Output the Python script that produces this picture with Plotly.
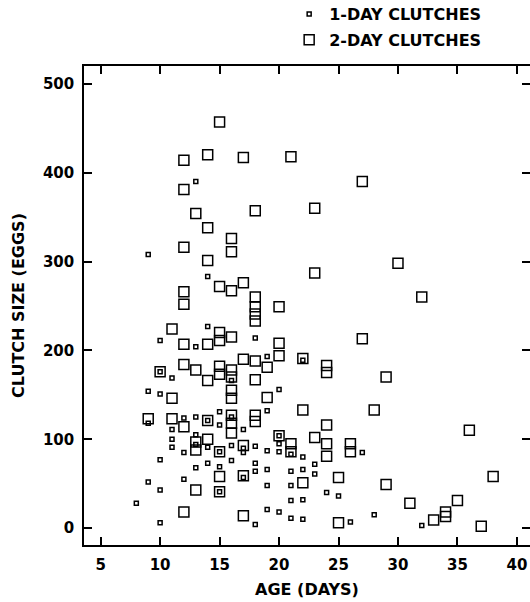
import plotly.graph_objects as go

# 1-day clutches: (age in days, clutch size in eggs)
one_day_age = [8,
               9, 9, 9, 9,
               10, 10, 10, 10, 10, 10,
               11, 11, 11, 11,
               12, 12, 12,
               13, 13, 13, 13, 13, 13,
               14, 14, 14, 14, 14,
               15, 15, 15, 15, 15,
               16, 16, 16, 16,
               17, 17, 17, 17,
               18, 18, 18, 18, 18,
               19, 19, 19, 19, 19, 19,
               20, 20, 20, 20, 20,
               21, 21, 21, 21, 21,
               22, 22, 22, 22, 22,
               23, 23,
               24, 25, 26, 27, 28, 32]
one_day_size = [28,
                308, 154, 118, 52,
                211, 176, 151, 77, 43, 6,
                169, 111, 100, 91,
                124, 85, 55,
                390, 204, 125, 105, 94, 68,
                283, 227, 121, 91, 73,
                131, 116, 86, 69, 41,
                166, 125, 93, 76,
                111, 90, 85, 57,
                214, 92, 73, 64, 4,
                193, 132, 87, 66, 48, 21,
                156, 104, 95, 86, 18,
                83, 64, 48, 31, 11,
                189, 80, 66, 32, 10,
                72, 61,
                40, 36, 7, 85, 15, 3]

# 2-day clutches
two_day_age = [9,
               10,
               11, 11, 11,
               12, 12, 12, 12, 12, 12, 12, 12, 12,
               13, 13, 13, 13, 13,
               14, 14, 14, 14, 14, 14, 14,
               15, 15, 15, 15, 15, 15, 15, 15, 15,
               16, 16, 16, 16, 16, 16, 16, 16, 16, 16, 16,
               17, 17, 17, 17, 17, 17,
               18, 18, 18, 18, 18, 18, 18, 18, 18,
               19, 19,
               20, 20, 20, 20,
               21, 21, 21,
               22, 22, 22,
               23, 23, 23,
               24, 24, 24, 24, 24,
               25, 25,
               26, 26,
               27, 27,
               28,
               29, 29,
               30, 31, 32, 33, 34, 34, 35, 36, 37, 38]
two_day_size = [123,
                176,
                224, 146, 123,
                414, 381, 316, 266, 252, 207, 184, 114, 18,
                354, 178, 97, 88, 43,
                420, 338, 301, 207, 166, 121, 100,
                457, 272, 220, 211, 182, 173, 86, 58, 41,
                326, 311, 267, 215, 178, 170, 155, 146, 127, 118, 107,
                417, 276, 190, 93, 59, 14,
                357, 260, 249, 241, 233, 188, 167, 127, 120,
                181, 147,
                249, 208, 194, 104,
                418, 95, 86,
                191, 133, 51,
                360, 287, 102,
                183, 175, 116, 95, 81,
                57, 6,
                95, 86,
                390, 213,
                133,
                170, 49,
                298, 28, 260, 9, 18, 13, 31, 110, 2, 58]

x_ticks = [5, 10, 15, 20, 25, 30, 35, 40]
y_ticks = [0, 100, 200, 300, 400, 500]

X_RANGE = [3.6, 41.1]
Y_RANGE = [-19, 520]

FONT = "DejaVu Sans"
tick_font = dict(family=FONT, size=15, color="black", weight="bold")
title_font = dict(family=FONT, size=16, color="black", weight="bold")

fig = go.Figure()
fig.add_trace(go.Scatter(
    x=one_day_age, y=one_day_size, mode="markers", name="1-DAY CLUTCHES",
    legendgroup="a",
    marker=dict(symbol="square-open", size=4, color="black", line=dict(width=1.5, color="black")),
))
fig.add_trace(go.Scatter(
    x=two_day_age, y=two_day_size, mode="markers", name="2-DAY CLUTCHES",
    legendgroup="b",
    marker=dict(symbol="square-open", size=10, color="black", line=dict(width=1.5, color="black")),
))
# empty helper trace so the right-hand tick axis is drawn
fig.add_trace(go.Scatter(x=[None], y=[None], yaxis="y2", mode="markers",
                         showlegend=False, hoverinfo="skip"))

tick_common = dict(
    ticks="inside", ticklen=8, tickwidth=1.5, tickcolor="black",
    showgrid=False, zeroline=False,
)

fig.update_layout(
    xaxis=dict(
        range=X_RANGE, tickvals=x_ticks, ticktext=[str(v) for v in x_ticks],
        showline=True, linecolor="black", linewidth=1.5, mirror="ticks",
        tickfont=tick_font, ticklabelstandoff=5,
        title=dict(text="AGE (DAYS)", font=title_font, standoff=11),
        **tick_common,
    ),
    yaxis=dict(
        range=Y_RANGE, tickvals=y_ticks, ticktext=[str(v) for v in y_ticks],
        showline=True, linecolor="black", linewidth=1.5, mirror=False,
        tickfont=tick_font, ticklabelstandoff=5,
        title=dict(text="CLUTCH SIZE (EGGS)", font=title_font, standoff=14),
        **tick_common,
    ),
    # right-hand ticks without a visible spine
    yaxis2=dict(
        range=Y_RANGE, tickvals=y_ticks, overlaying="y", side="right",
        showline=False, showticklabels=False, anchor="x",
        **tick_common,
    ),
    width=530, height=602,
    margin=dict(l=84, r=0, t=66, b=57, pad=0, autoexpand=False),
    paper_bgcolor="white", plot_bgcolor="white",
    showlegend=True,
    legend=dict(
        x=0.46, xanchor="left", y=1.144, yanchor="top",
        font=dict(family=FONT, size=16, color="black", weight="bold"),
        traceorder="grouped", tracegroupgap=2,
        bgcolor="rgba(0,0,0,0)", itemwidth=30,
    ),
)

fig.write_html("out.html")
